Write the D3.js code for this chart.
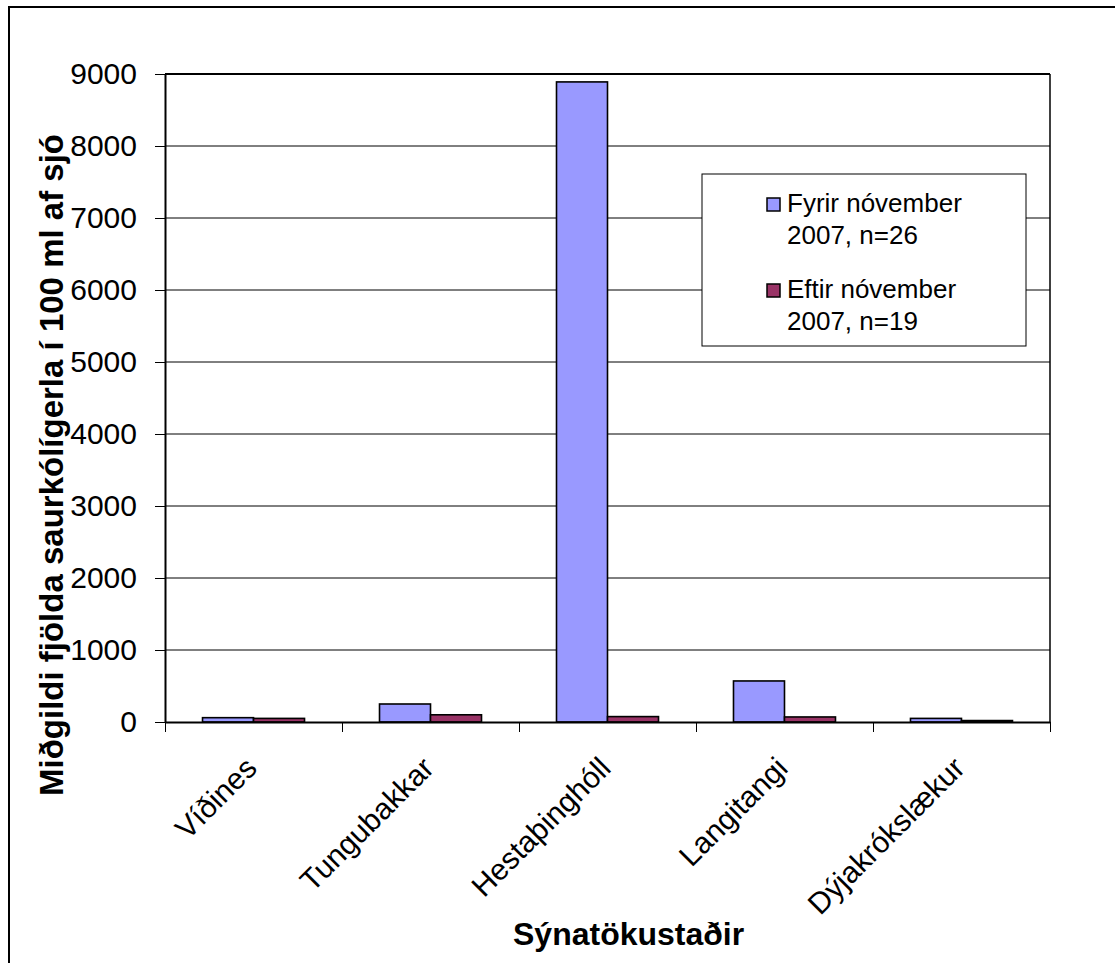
<!DOCTYPE html>
<html>
<head>
<meta charset="utf-8">
<script src="https://cdn.jsdelivr.net/npm/d3@7"></script>
<style>
  html, body { margin: 0; padding: 0; background: #fff; }
  svg { display: block; }
  text { font-family: "Liberation Sans", Arial, sans-serif; fill: #000; }
</style>
</head>
<body>
<svg id="chart" width="1115" height="963"></svg>
<script>
// Sampling sites and median counts of faecal coliforms per 100 ml of seawater
const categories = ["Víðines", "Tungubakkar", "Hestaþinghóll", "Langitangi", "Dýjakrókslækur"];
const fyrirValues = [60, 250, 8890, 570, 50];   // before November 2007, n=26
const eftirValues = [50, 100, 75, 70, 20];      // after November 2007, n=19
const seriesLabels = [
  ["Fyrir nóvember", "2007, n=26"],
  ["Eftir nóvember", "2007, n=19"]
];
const seriesColors = ["#9999FF", "#993366"];
const yTicks = [0, 1000, 2000, 3000, 4000, 5000, 6000, 7000, 8000, 9000];
const yTitle = "Miðgildi fjölda saurkólígerla í 100 ml af sjó";
const xTitle = "Sýnatökustaðir";

const svg = d3.select("#chart");

// Chart area frame
svg.append("rect")
  .attr("x", 9).attr("y", 7)
  .attr("width", 1200).attr("height", 1100)
  .attr("fill", "#fff").attr("stroke", "#000").attr("stroke-width", 2);

const plot = { left: 165, top: 74, right: 1050, bottom: 722 };

const y = d3.scaleLinear().domain([0, 9000]).range([plot.bottom, plot.top]);
const x0 = d3.scaleBand().domain(categories)
  .range([plot.left, plot.right])
  .paddingInner(0.4237).paddingOuter(0.212);
const x1 = d3.scaleBand().domain([0, 1]).range([0, x0.bandwidth()]);
const xEdges = d3.scaleLinear().domain([0, categories.length]).range([plot.left, plot.right]);

// Gridlines
svg.append("g")
  .selectAll("line")
  .data(yTicks.filter(d => d > 0))
  .join("line")
  .attr("x1", plot.left).attr("x2", plot.right)
  .attr("y1", d => y(d)).attr("y2", d => y(d))
  .attr("stroke", "#000").attr("stroke-width", 1);

// Plot area border (top and right)
svg.append("line")
  .attr("x1", plot.right).attr("x2", plot.right)
  .attr("y1", plot.top).attr("y2", plot.bottom)
  .attr("stroke", "#000").attr("stroke-width", 1.5);
svg.append("line")
  .attr("x1", plot.left).attr("x2", plot.right)
  .attr("y1", plot.top).attr("y2", plot.top)
  .attr("stroke", "#000").attr("stroke-width", 2);

// Bars
const rows = categories.map((c, i) => ({ cat: c, vals: [fyrirValues[i], eftirValues[i]] }));
svg.append("g")
  .selectAll("g")
  .data(rows)
  .join("g")
  .attr("transform", d => `translate(${x0(d.cat)},0)`)
  .selectAll("rect")
  .data(d => d.vals.map((v, k) => ({ v, k })))
  .join("rect")
  .attr("x", d => x1(d.k))
  .attr("width", x1.bandwidth())
  .attr("y", d => y(d.v))
  .attr("height", d => y(0) - y(d.v))
  .attr("fill", d => seriesColors[d.k])
  .attr("stroke", "#000").attr("stroke-width", 1.6);

// Y axis
const yAxis = svg.append("g")
  .attr("transform", `translate(${plot.left},0)`)
  .call(d3.axisLeft(y).tickValues(yTicks).tickFormat(d3.format("d"))
    .tickSize(10).tickPadding(18).tickSizeOuter(0));
yAxis.select(".domain").attr("stroke", "#000").attr("stroke-width", 2);
yAxis.selectAll(".tick line").attr("stroke", "#000").attr("stroke-width", 1);
yAxis.selectAll(".tick text")
  .style("font-family", '"Liberation Sans", Arial, sans-serif')
  .style("font-size", "30px").attr("fill", "#000");

// X axis (tick marks at category boundaries)
const xAxis = svg.append("g")
  .attr("transform", `translate(0,${plot.bottom})`)
  .call(d3.axisBottom(xEdges).ticks(categories.length).tickSize(10).tickSizeOuter(0).tickFormat(""));
xAxis.select(".domain").attr("stroke", "#000").attr("stroke-width", 2);
xAxis.selectAll(".tick line").attr("stroke", "#000").attr("stroke-width", 1);

// Rotated category labels
svg.append("g")
  .selectAll("text")
  .data(categories)
  .join("text")
  .attr("transform", d => `translate(${x0(d) + x0.bandwidth() / 2 + 5},770) rotate(-45)`)
  .attr("text-anchor", "end")
  .style("font-size", "30px")
  .text(d => d);

// Axis titles
svg.append("text")
  .attr("transform", "translate(63,134) rotate(-90)")
  .attr("text-anchor", "end")
  .style("font-size", "33px").style("font-weight", "bold")
  .text(yTitle);

svg.append("text")
  .attr("x", 513).attr("y", 945)
  .attr("text-anchor", "start")
  .style("font-size", "32px").style("font-weight", "bold")
  .text(xTitle);

// Legend
const legend = svg.append("g");
legend.append("rect")
  .attr("x", 702).attr("y", 174).attr("width", 324).attr("height", 172)
  .attr("fill", "#fff").attr("stroke", "#000").attr("stroke-width", 1);
const legendItems = legend.selectAll("g.item")
  .data(seriesLabels)
  .join("g")
  .attr("class", "item")
  .attr("transform", (d, i) => `translate(0,${i * 86})`);
legendItems.append("rect")
  .attr("x", 767).attr("y", 198).attr("width", 13).attr("height", 13)
  .attr("fill", (d, i) => seriesColors[i])
  .attr("stroke", "#000").attr("stroke-width", 1.5);
legendItems.append("text")
  .attr("x", 787).attr("y", 212)
  .style("font-size", "26px")
  .text(d => d[0]);
legendItems.append("text")
  .attr("x", 787).attr("y", 244)
  .style("font-size", "26px")
  .text(d => d[1]);
</script>
</body>
</html>
